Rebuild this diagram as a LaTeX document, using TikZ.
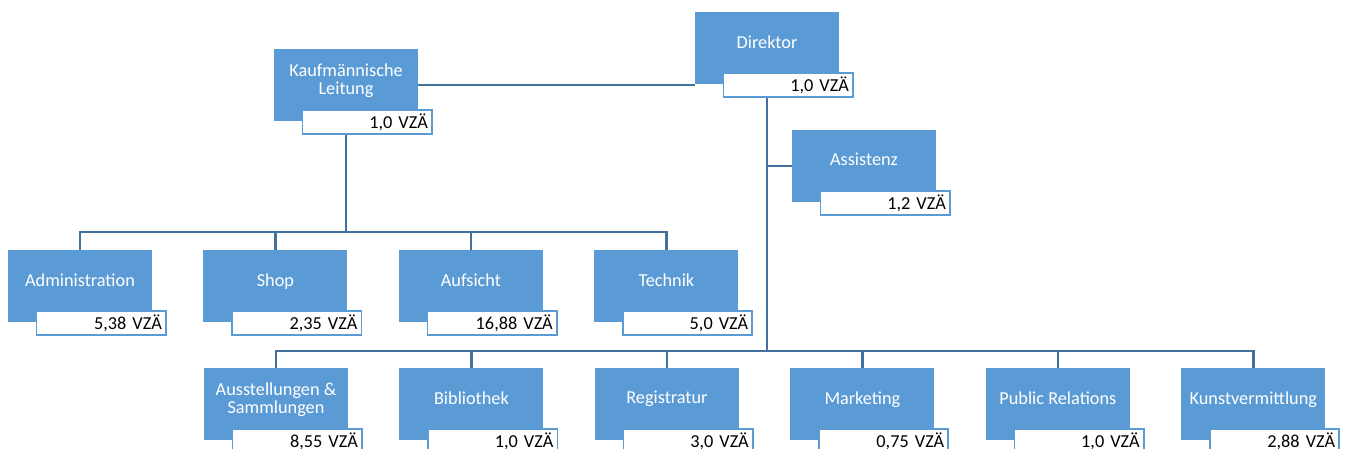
\documentclass[tikz,border=0pt]{standalone}
\usepackage{fontspec}
\setmainfont{Carlito}
\usepackage{tikz}
\usetikzlibrary{positioning}
\definecolor{unitblue}{RGB}{91,155,213}
\definecolor{lineblue}{RGB}{65,113,156}

\begin{document}
\begin{tikzpicture}[x=0.75pt, y=-0.75pt, node distance=38.2pt,
  box/.style={fill=unitblue, text=white, minimum width=108pt, minimum height=54pt,
  align=center, inner sep=2pt, text depth=9.5pt, font=\fontsize{13.7}{13.5}\selectfont},
  vz/.style={draw=unitblue, line width=1.2pt, fill=white, text width=91pt, align=right,
  inner xsep=3pt, inner ysep=0pt, minimum height=18pt, font=\fontsize{13.7}{15}\selectfont},
  conn/.style={draw=lineblue, line width=2pt}]
  \useasboundingbox (0,0) rectangle (1347,449);
  % Leitung
  \node[box] (dir) at (767,48) {Direktor};
  \node[vz, below right=-9pt and 21pt of dir.south west] (dir-v) {1,0 VZÄ};
  \node[box] (kauf) at (346,85) {Kaufmännische\\Leitung};
  \node[vz, below right=-9pt and 21pt of kauf.south west] (kauf-v) {1,0 VZÄ};
  \node[box] (assist) at (864,166) {Assistenz};
  \node[vz, below right=-9pt and 21pt of assist.south west] (assist-v) {1,2 VZÄ};
  % kaufmaennischer Bereich
  \node[box] (admin) at (80,286) {Administration};
  \node[vz, below right=-9pt and 21pt of admin.south west] (admin-v) {5,38 VZÄ};
  \node[box, right=of admin] (shop) {Shop};
  \node[vz, below right=-9pt and 21pt of shop.south west] (shop-v) {2,35 VZÄ};
  \node[box, right=of shop] (aufs) {Aufsicht};
  \node[vz, below right=-9pt and 21pt of aufs.south west] (aufs-v) {16,88 VZÄ};
  \node[box, right=of aufs] (tech) {Technik};
  \node[vz, below right=-9pt and 21pt of tech.south west] (tech-v) {5,0 VZÄ};
  % wissenschaftlicher Bereich
  \node[box] (ausst) at (276,404) {Ausstellungen \&\\Sammlungen};
  \node[vz, below right=-9pt and 21pt of ausst.south west] (ausst-v) {8,55 VZÄ};
  \node[box, right=of ausst] (bib) {Bibliothek};
  \node[vz, below right=-9pt and 21pt of bib.south west] (bib-v) {1,0 VZÄ};
  \node[box, right=of bib] (reg) {Registratur};
  \node[vz, below right=-9pt and 21pt of reg.south west] (reg-v) {3,0 VZÄ};
  \node[box, right=of reg] (mark) {Marketing};
  \node[vz, below right=-9pt and 21pt of mark.south west] (mark-v) {0,75 VZÄ};
  \node[box, right=of mark] (pr) {Public Relations};
  \node[vz, below right=-9pt and 21pt of pr.south west] (pr-v) {1,0 VZÄ};
  \node[box, right=of pr] (kunst) {Kunstvermittlung};
  \node[vz, below right=-9pt and 21pt of kunst.south west] (kunst-v) {2,88 VZÄ};
  % Linien
  \coordinate (bus2) at (346,232);
  \coordinate (bus3) at (767,351);
  \draw[conn] (kauf.east) -- (kauf.east -| dir.west);
  \draw[conn] (dir-v.south -| dir.south) -- (bus3);
  \draw[conn] (assist.west) -- (assist.west -| dir.south);
  \draw[conn] (kauf-v.south -| kauf.south) -- (bus2);
  \draw[conn] (admin.north) -- (admin.north |- bus2) -| (tech.north);
  \draw[conn] (shop.north) -- (shop.north |- bus2);
  \draw[conn] (aufs.north) -- (aufs.north |- bus2);
  \draw[conn] (ausst.north) -- (ausst.north |- bus3) -| (kunst.north);
  \draw[conn] (bib.north) -- (bib.north |- bus3);
  \draw[conn] (reg.north) -- (reg.north |- bus3);
  \draw[conn] (mark.north) -- (mark.north |- bus3);
  \draw[conn] (pr.north) -- (pr.north |- bus3);
\end{tikzpicture}
\end{document}
